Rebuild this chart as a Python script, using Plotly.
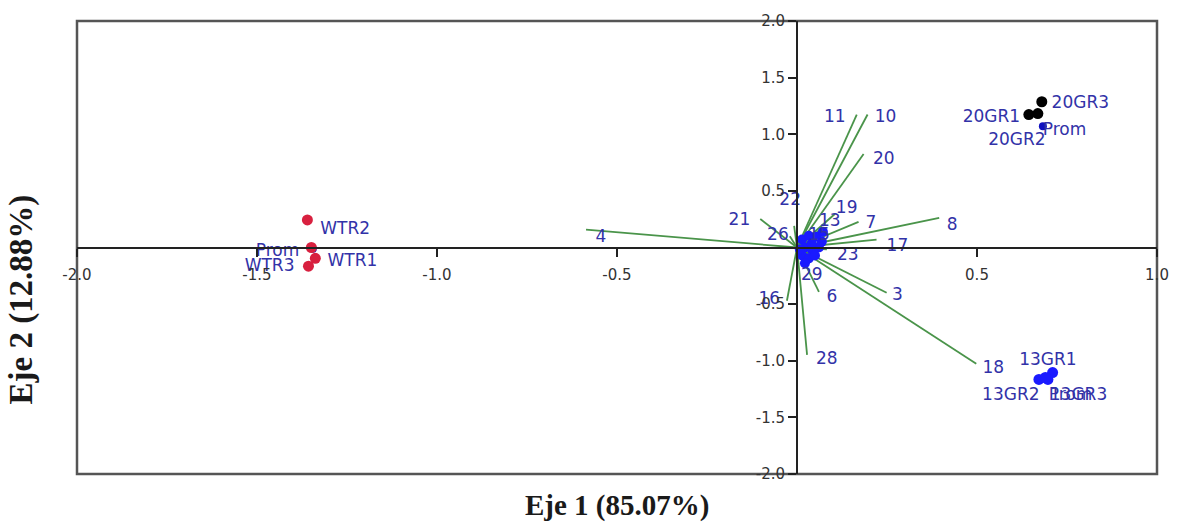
import plotly.graph_objects as go

# ---------------- data ----------------
var_names = ["4", "21", "22", "26", "11", "10", "20", "19", "13", "7",
             "8", "15", "17", "23", "29", "6", "3", "18", "16", "28"]
var_x = [-0.586, -0.102, -0.008, -0.020, 0.166, 0.196, 0.185, 0.105, 0.069, 0.171,
         0.395, 0.050, 0.221, 0.083, 0.028, 0.061, 0.249, 0.498, -0.028, 0.028]
var_y = [0.157, 0.252, 0.190, 0.100, 1.174, 1.174, 0.826, 0.296, 0.165, 0.226,
         0.261, 0.087, 0.070, -0.017, -0.157, -0.391, -0.400, -1.026, -0.470, -0.948]
var_label_x = [-0.545, -0.160, -0.019, -0.053, 0.105, 0.246, 0.241, 0.138, 0.091, 0.205,
               0.431, 0.061, 0.279, 0.141, 0.041, 0.097, 0.279, 0.545, -0.077, 0.083]
var_label_y = [0.087, 0.235, 0.409, 0.104, 1.148, 1.148, 0.774, 0.339, 0.226, 0.209,
               0.191, 0.104, 0.009, -0.070, -0.252, -0.443, -0.426, -1.070, -0.461, -0.991]

# blue points clustered at the origin
origin_x = [0.014, 0.033, 0.055, 0.069, 0.022, 0.041, 0.061, 0.014, 0.033, 0.050, 0.022, 0.041, 0.072, 0.008]
origin_y = [0.070, 0.104, 0.096, 0.052, 0.000, -0.017, 0.000, -0.070, -0.096, -0.070, -0.139, 0.035, 0.139, -0.017]

# samples
wtr_x = [-1.338, -1.360, -1.357, -1.349]
wtr_y = [-0.096, 0.243, -0.165, 0.000]
gr20_x = [0.644, 0.669, 0.680]
gr20_y = [1.174, 1.183, 1.287]
gr13_x = [0.672, 0.710, 0.697, 0.690]
gr13_y = [-1.165, -1.104, -1.165, -1.148]
prom_x = [-1.345, 0.683, 0.690]
prom_y = [-0.010, 1.070, -1.148]

sample_labels = ["WTR2", "WTR1", "WTR3", "Prom", "20GR1", "20GR3", "20GR2", "Prom",
                 "13GR1", "13GR2", "13GR3", "Prom"]
sample_label_x = [-1.255, -1.235, -1.465, -1.443, 0.540, 0.787, 0.611, 0.743,
                  0.697, 0.594, 0.782, 0.760]
sample_label_y = [0.157, -0.130, -0.174, -0.035, 1.148, 1.270, 0.939, 1.035,
                  -1.000, -1.313, -1.313, -1.313]

x_ticks = [-2.0, -1.5, -1.0, -0.5, 0.5, 1.0]
y_ticks = [-2.0, -1.5, -1.0, -0.5, 0.5, 1.0, 1.5, 2.0]

x_title = "Eje 1 (85.07%)"
y_title = "Eje 2 (12.88%)"

# ---------------- figure ----------------
LABEL_COLOR = "#3232a8"
GREEN = "#4a944a"

line_x, line_y = [], []
for vx, vy in zip(var_x, var_y):
    line_x += [0, vx, None]
    line_y += [0, vy, None]

fig = go.Figure()
fig.add_trace(go.Scatter(x=line_x, y=line_y, mode="lines",
                         line=dict(color=GREEN, width=1.8), hoverinfo="skip"))
fig.add_trace(go.Scatter(x=origin_x, y=origin_y, mode="markers",
                         marker=dict(color="#1a1aff", size=10)))
fig.add_trace(go.Scatter(x=prom_x, y=prom_y, mode="markers",
                         marker=dict(color="#1010c0", size=8)))
fig.add_trace(go.Scatter(x=wtr_x, y=wtr_y, mode="markers",
                         marker=dict(color="#d8203f", size=11)))
fig.add_trace(go.Scatter(x=gr20_x, y=gr20_y, mode="markers",
                         marker=dict(color="#000000", size=11)))
fig.add_trace(go.Scatter(x=gr13_x, y=gr13_y, mode="markers",
                         marker=dict(color="#1a1aff", size=11)))
fig.add_trace(go.Scatter(x=var_label_x, y=var_label_y, mode="text", text=var_names,
                         textposition="middle center",
                         textfont=dict(family="DejaVu Sans", size=17, color=LABEL_COLOR)))
fig.add_trace(go.Scatter(x=sample_label_x, y=sample_label_y, mode="text", text=sample_labels,
                         textposition="middle center",
                         textfont=dict(family="DejaVu Sans", size=17, color=LABEL_COLOR)))

axis_common = dict(showgrid=False, zeroline=False, showline=True, linecolor="#222222",
                   linewidth=2, ticks="outside", tickcolor="#222222", tickwidth=2,
                   ticklen=8, anchor="free",
                   tickfont=dict(family="DejaVu Sans", size=15, color="#333333"))

fig.update_layout(
    width=1181, height=527,
    margin=dict(l=77, r=19, t=14, b=53),
    paper_bgcolor="white", plot_bgcolor="white",
    showlegend=False,
    xaxis=dict(range=[-2, 1], domain=[0, 1], position=0.5,
               tickvals=x_ticks, ticktext=[f"{v:.1f}" for v in x_ticks],
               ticklabelstandoff=5, **axis_common),
    yaxis=dict(range=[-2, 2], domain=[0, 1], position=2 / 3,
               tickvals=y_ticks, ticktext=[f"{v:.1f}" for v in y_ticks],
               **axis_common),
    shapes=[dict(type="rect", xref="paper", yref="paper", x0=0, y0=0, x1=1, y1=1,
                 line=dict(color="#555555", width=2.5), layer="below")],
    annotations=[
        dict(text=f"<b>{x_title}</b>", xref="paper", yref="paper", x=0.5, y=-0.069,
             xanchor="center", yanchor="middle", showarrow=False,
             font=dict(family="Liberation Serif", size=29, color="#1a1a1a")),
        dict(text=f"<b>{y_title}</b>", xref="paper", yref="paper", x=-0.051, y=0.385,
             xanchor="center", yanchor="middle", showarrow=False, textangle=-90,
             font=dict(family="Liberation Serif", size=33, color="#1a1a1a")),
    ],
)

fig.write_html("out.html")
